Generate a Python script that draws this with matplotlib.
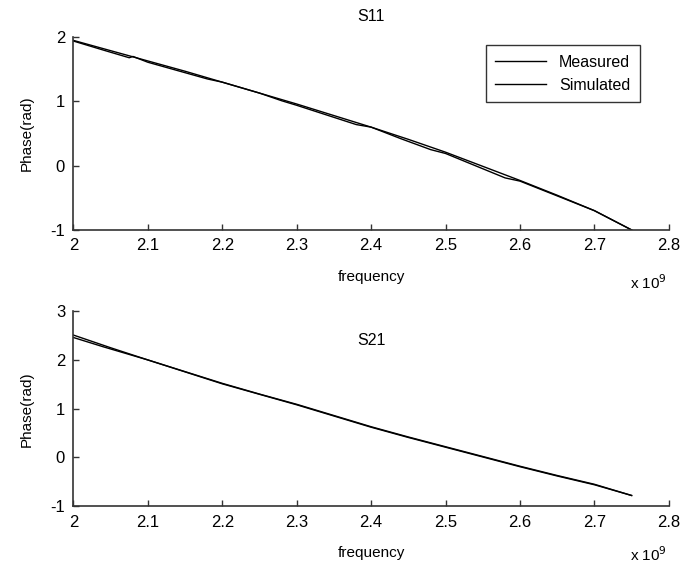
import matplotlib
matplotlib.use("Agg")
import matplotlib.pyplot as plt

plt.rcParams['font.family'] = ['Liberation Sans', 'DejaVu Sans']
plt.rcParams['font.size'] = 11

# S11 phase (rad) vs frequency (GHz)
f_sim = [2.00, 2.05, 2.10, 2.15, 2.20, 2.25, 2.30, 2.35, 2.40, 2.45, 2.50,
         2.55, 2.60, 2.65, 2.70, 2.75]
s11_sim = [1.95, 1.79, 1.63, 1.47, 1.30, 1.13, 0.96, 0.78, 0.60, 0.41, 0.21,
           -0.01, -0.23, -0.46, -0.70, -1.00]
f_meas11 = [2.00, 2.04, 2.075, 2.08, 2.10, 2.14, 2.18, 2.20, 2.25, 2.28, 2.30, 2.34,
            2.38, 2.40, 2.44, 2.48, 2.50, 2.54, 2.58, 2.60, 2.65, 2.70, 2.75]
s11_meas = [1.94, 1.80, 1.68, 1.70, 1.61, 1.48, 1.35, 1.30, 1.13, 1.01, 0.94, 0.79,
            0.64, 0.60, 0.42, 0.25, 0.19, 0.00, -0.19, -0.24, -0.47, -0.70, -1.00]

# S21 phase
s21_sim = [2.51, 2.25, 2.00, 1.76, 1.52, 1.30, 1.09, 0.86, 0.63, 0.42, 0.22,
           0.02, -0.18, -0.37, -0.55, -0.78]
f_meas21 = [2.00, 2.04, 2.08, 2.10, 2.20, 2.30, 2.35, 2.40, 2.45, 2.50, 2.60, 2.65, 2.70, 2.75]
s21_meas = [2.46, 2.27, 2.09, 2.00, 1.51, 1.08, 0.85, 0.62, 0.41, 0.21, -0.19, -0.38, -0.56, -0.78]

xticks = [2, 2.1, 2.2, 2.3, 2.4, 2.5, 2.6, 2.7, 2.8]
xticklabels = ['2', '2.1', '2.2', '2.3', '2.4', '2.5', '2.6', '2.7', '2.8']

fig = plt.figure(figsize=(6.86, 5.72), dpi=100)
ax1 = fig.add_axes([0.107, 0.598, 0.868, 0.337])
ax2 = fig.add_axes([0.107, 0.115, 0.868, 0.341])


def style(ax, ylim, yticks):
    ax.set_xlim(2, 2.8)
    ax.set_ylim(*ylim)
    ax.set_xticks(xticks)
    ax.set_xticklabels(xticklabels)
    ax.set_yticks(yticks)
    ax.set_yticklabels([str(t) for t in yticks])
    for s in ['top', 'right']:
        ax.spines[s].set_visible(False)
    for s in ['left', 'bottom']:
        ax.spines[s].set_color('#333333')
        ax.spines[s].set_linewidth(1.2)
    ax.tick_params(direction='in', length=4, width=1, colors='#333333',
                   labelcolor='black', labelsize=12, pad=6)
    ax.set_xlabel('frequency', fontsize=11, labelpad=12)
    ax.set_ylabel('Phase(rad)', fontsize=11, labelpad=12)


l1, = ax1.plot(f_meas11, s11_meas, color='black', lw=1.0)
l2, = ax1.plot(f_sim, s11_sim, color='black', lw=1.0)
style(ax1, (-1, 2), [-1, 0, 1, 2])
ax1.set_title('S11', fontsize=11.5, pad=12)
leg = ax1.legend([l1, l2], ['Measured', 'Simulated'], loc='upper right',
                 bbox_to_anchor=(0.965, 1.0), fancybox=False, framealpha=1,
                 edgecolor='#333333', fontsize=11.5, handlelength=3.2,
                 borderpad=0.6, labelspacing=0.5)
leg.get_frame().set_linewidth(1.0)

ax2.plot(f_meas21, s21_meas, color='black', lw=1.0)
ax2.plot(f_sim, s21_sim, color='black', lw=1.0)
style(ax2, (-1, 3), [-1, 0, 1, 2, 3])
ax2.text(2.4, 2.4, 'S21', ha='center', va='center', fontsize=11.5)

fig.text(0.972, 0.505, r'x 10$^{9}$', ha='right', va='center', fontsize=11)
fig.text(0.972, 0.030, r'x 10$^{9}$', ha='right', va='center', fontsize=11)

fig.savefig('out.png', dpi=100)
